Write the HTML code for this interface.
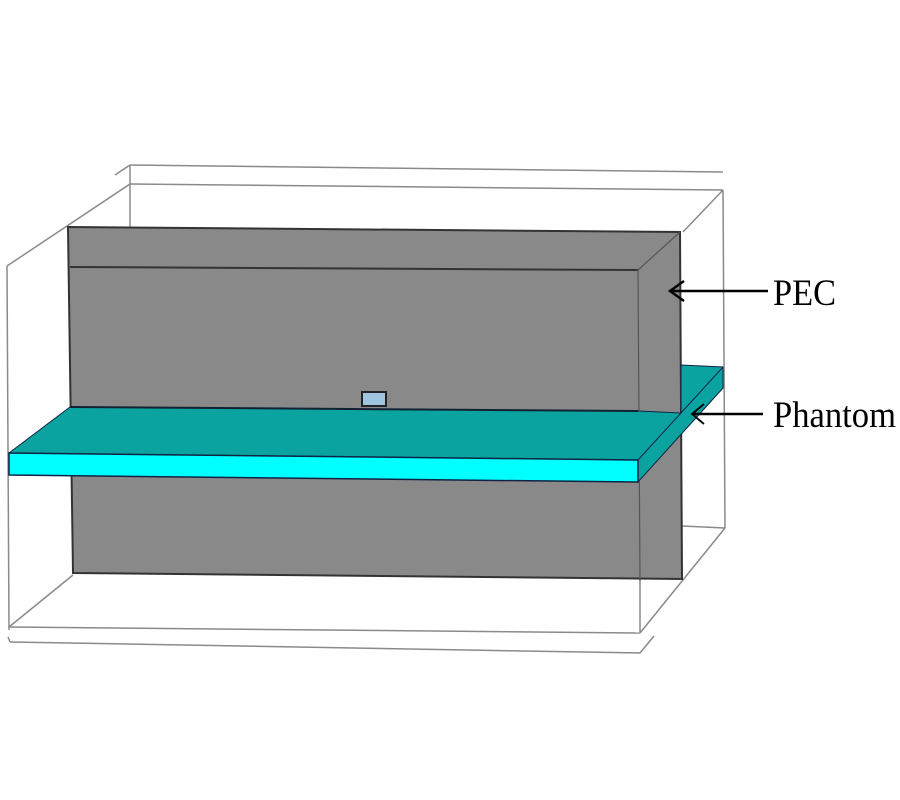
<!DOCTYPE html>
<html><head><meta charset="utf-8"><style>html,body{margin:0;padding:0;background:#fff}svg{display:block}</style></head><body>
<svg width="900" height="800" viewBox="0 0 900 800" xmlns="http://www.w3.org/2000/svg">
<g fill="none" stroke="#8a8a8a" stroke-width="1.5">
<line x1="130" y1="165" x2="723" y2="172"/>
<line x1="130" y1="184" x2="723" y2="190"/>
<line x1="130" y1="165" x2="130" y2="228"/>
<line x1="130" y1="165" x2="115" y2="175"/>
<line x1="130" y1="184" x2="7" y2="266"/>
<line x1="7" y1="266" x2="9" y2="630"/>
<line x1="723" y1="190" x2="683" y2="232"/>
<line x1="723" y1="190" x2="725" y2="528"/>
<line x1="682" y1="526" x2="725" y2="528"/>
<line x1="725" y1="528" x2="640" y2="633"/>
<line x1="640" y1="270" x2="640" y2="633"/>
<line x1="9" y1="627" x2="640" y2="633"/>
<line x1="73" y1="575" x2="9" y2="627"/>
<line x1="10" y1="642" x2="640" y2="653"/>
<line x1="10" y1="642" x2="8" y2="637"/>
<line x1="640" y1="653" x2="654" y2="636"/>
</g>
<polygon points="68,227 680,232 682,579 73,573" fill="#898989" stroke="#333" stroke-width="2"/>
<line x1="70" y1="267" x2="638" y2="270" stroke="#333" stroke-width="2"/>
<line x1="638" y1="270" x2="680" y2="232" stroke="#555" stroke-width="1.2"/>
<line x1="638" y1="270" x2="640" y2="581" stroke="#555" stroke-width="1.2"/>
<rect x="362" y="392" width="24" height="14" fill="#9fc4e0" stroke="#222" stroke-width="2"/>
<polygon points="9,453 70,407 638,411 681,413 681,365 723,367 723,388 638,482 638,460" fill="#0aa39f" stroke="#124" stroke-width="1"/>
<polygon points="9,453 638,460 638,482 9,475" fill="#00ffff" stroke="#124" stroke-width="1.5"/>
<line x1="638" y1="460" x2="723" y2="367" stroke="#124" stroke-width="1"/>
<line x1="70" y1="407" x2="638" y2="411" stroke="#123" stroke-width="2"/>
<g stroke="#000" stroke-width="2.5" fill="none">
<line x1="768" y1="291" x2="670" y2="291"/>
<polyline points="684,281 670,291 684,301"/>
<line x1="763" y1="414" x2="692" y2="414"/>
<polyline points="704,404 692,414 704,424" stroke-width="1.8"/>
</g>
<text x="773" y="305" font-family="Liberation Serif, serif" font-size="37" textLength="63" lengthAdjust="spacingAndGlyphs">PEC</text>
<text x="773" y="427" font-family="Liberation Serif, serif" font-size="37" textLength="123" lengthAdjust="spacingAndGlyphs">Phantom</text>
</svg>
</body></html>
